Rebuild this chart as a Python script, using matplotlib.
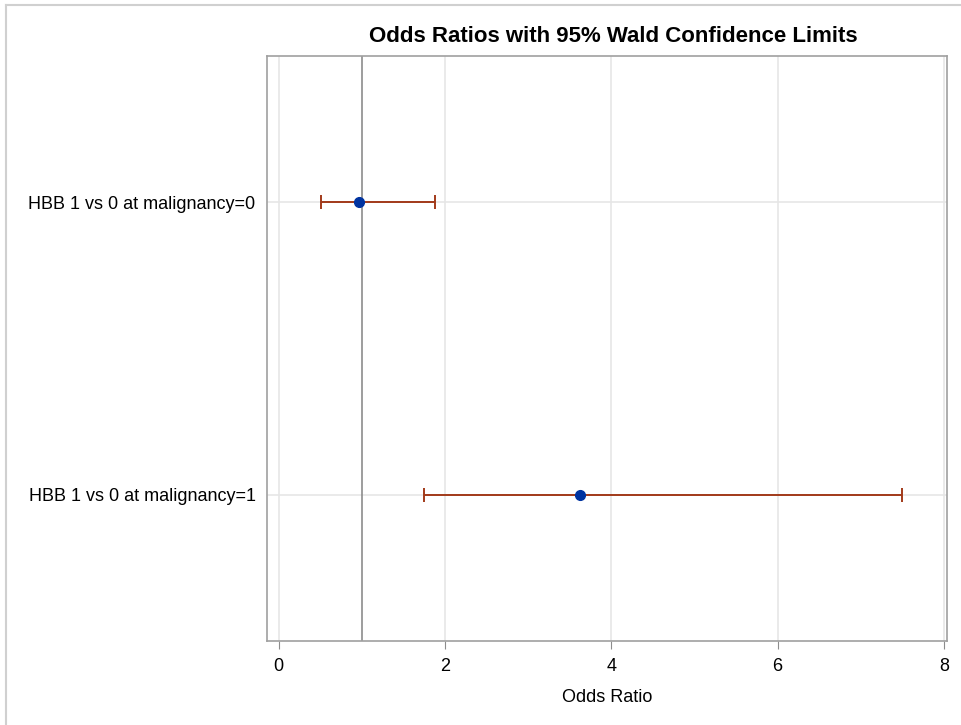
import matplotlib.pyplot as plt
from matplotlib.lines import Line2D

plt.rcParams['font.family'] = ['Liberation Sans', 'DejaVu Sans']

labels = ['HBB 1 vs 0 at malignancy=0', 'HBB 1 vs 0 at malignancy=1']
odds = [0.97, 3.62]
lower = [0.51, 1.75]
upper = [1.88, 7.49]

fig = plt.figure(figsize=(9.62, 7.25), dpi=100)
ax = fig.add_axes([0.2772, 0.1159, 0.7072, 0.8073])

# outer border (top and left only, like the cropped screenshot)
fig.add_artist(Line2D([6/962, 6/962], [0, 1 - 5/725], transform=fig.transFigure, color='#d0d0d0', lw=1.5))
fig.add_artist(Line2D([6/962, 1], [1 - 5/725, 1 - 5/725], transform=fig.transFigure, color='#d0d0d0', lw=1.5))

y = list(range(len(labels)))
err = [[o - l for o, l in zip(odds, lower)], [u - o for o, u in zip(odds, upper)]]
ax.errorbar(odds, y, xerr=err, fmt='none', ecolor='#a23a1a', elinewidth=1.4, capsize=5, capthick=1.4, zorder=3)
ax.plot(odds, y, 'o', color='#0033a0', markersize=7, zorder=4)

ax.axvline(1, color='#8c8c8c', lw=1.2, zorder=2)

ax.set_xlim(-0.143, 8.036)
ax.set_ylim(1.5, -0.5)
ax.set_xticks([0, 2, 4, 6, 8])
ax.set_yticks(y)
ax.set_yticklabels(labels, fontsize=13)
ax.tick_params(axis='x', labelsize=13, length=6, color='#8c8c8c', pad=6)
ax.tick_params(axis='y', length=0, pad=8)
ax.grid(True, color='#e6e6e6', lw=1.2, zorder=0)
ax.set_axisbelow(True)
for s in ax.spines.values():
    s.set_color('#a0a0a0')
    s.set_linewidth(1.2)

ax.set_xlabel('Odds Ratio', fontsize=13, labelpad=10)
ax.set_title('Odds Ratios with 95% Wald Confidence Limits', fontsize=16, fontweight='bold', pad=10, x=0.51)

plt.savefig('out.png')
